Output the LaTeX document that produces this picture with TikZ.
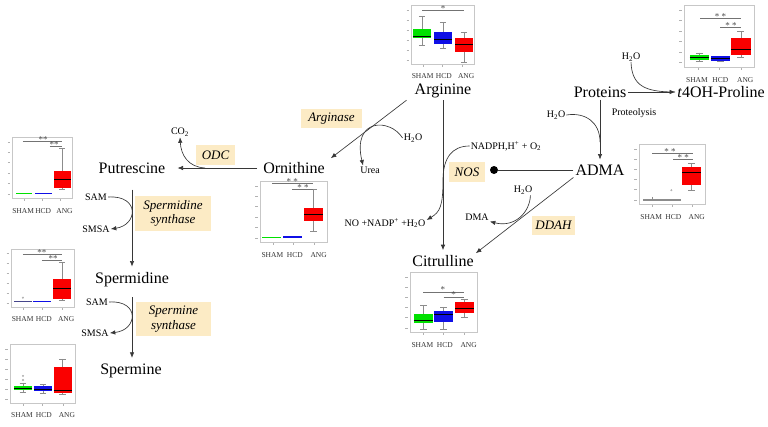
\documentclass[tikz,border=0pt]{standalone}
\usepackage{fontspec}
\setmainfont{Liberation Serif}
\usetikzlibrary{arrows.meta}
\definecolor{enzfill}{RGB}{252,235,197}
\definecolor{bgreen}{RGB}{0,225,0}
\definecolor{bblue}{RGB}{15,15,230}
\definecolor{bred}{RGB}{250,0,0}
\definecolor{bslate}{RGB}{70,70,140}
\definecolor{lnc}{RGB}{55,55,55}
\tikzset{
 met/.style={font=\fontsize{16}{18}\selectfont, inner sep=2pt},
 sm/.style={font=\fontsize{10}{12}\selectfont, inner sep=1pt},
 enz/.style={fill=enzfill, font=\fontsize{13}{14.5}\selectfont\itshape, align=center, inner sep=1pt},
 conn/.style={draw=lnc, line width=0.65pt},
 arr/.style={conn, -{Latex[length=5.5pt,width=4.5pt]}},
 axl/.style={font=\fontsize{7.5}{8}\selectfont, text=black!80, inner sep=0pt},
 pframe/.style={draw=black!22, line width=0.5pt},
 whisk/.style={draw=black!45, line width=0.4pt},
 sig/.style={draw=black!55, line width=0.4pt},
 star/.style={font=\fontsize{9}{9}\selectfont, text=black!70, inner sep=0pt},
 outl/.style={circle, draw=black!40, line width=0.3pt, inner sep=0pt, minimum size=1.6pt},
}
% box: colour, xc, whisker top, box top, median, box bottom, whisker bottom
\newcommand{\bxp}[7]{%
  \draw[whisk] (#2,#3) -- (#2,#4) (#2,#6) -- (#2,#7);
  \draw[whisk] (#2-0.05,#3) -- (#2+0.05,#3) (#2-0.05,#7) -- (#2+0.05,#7);
  \fill[#1] (#2-0.14,#4) rectangle (#2+0.14,#6);
  \draw[black, line width=0.4pt] (#2-0.14,#5) -- (#2+0.14,#5);
}
% flat box: colour, xc, y
\newcommand{\fbx}[3]{%
  \fill[#1] (#2-0.14,#3-0.012) rectangle (#2+0.14,#3+0.012);
}
% plot: x0, y0, w, h, content
\newcommand{\bplot}[5]{%
 \begin{scope}[shift={(#1,#2)}, xscale=#3, yscale=#4]
  \draw[pframe] (0,0) rectangle (1,1);
  \foreach \t in {0.08,0.25,0.42,0.59,0.76,0.93}
    \draw[black!30, line width=0.4pt] (-0.07,\t) -- (-0.035,\t);
  \foreach \g in {0.2,0.5,0.81}
    \draw[black!30, line width=0.3pt] (\g,1.02) -- (\g,1.05);
  #5
  \node[axl] at (0.185,1.21) {SHAM};
  \node[axl] at (0.52,1.21) {HCD};
  \node[axl] at (0.875,1.21) {ANG};
 \end{scope}}
\begin{document}
\begin{tikzpicture}[x=1pt,y=-1pt]
\fill[white] (0,0) rectangle (768,426);
\useasboundingbox (0,0) rectangle (768,426);

% ---- box plots ----
\bplot{411}{5}{63}{59}{
 \bxp{bgreen}{.175}{.19}{.41}{.53}{.56}{.68}
 \bxp{bblue}{.51}{.29}{.46}{.58}{.66}{.73}
 \bxp{bred}{.84}{.46}{.56}{.66}{.80}{.97}
 \draw[sig] (.175,.085) -- (.84,.085);
 \node[star] at (.51,.06) {*};
}
\bplot{684}{5}{70}{62}{
 \bxp{bgreen}{.22}{.77}{.81}{.84}{.88}{.90}
 \bxp{bblue}{.52}{.82}{.82}{.86}{.90}{.90}
 \bxp{bred}{.81}{.42}{.53}{.71}{.81}{.84}
 \draw[sig] (.23,.21) -- (.82,.21);
 \node[star] at (.52,.18) {* *};
 \draw[sig] (.52,.36) -- (.82,.36);
 \node[star] at (.67,.33) {* *};
}
\bplot{639}{144}{66}{60}{
 \draw[whisk] (.205,.88) -- (.205,.93);
 \fbx{black!45}{.205}{.93}
 \fbx{black!45}{.49}{.93}
 \node[outl] at (.49,.77) {};
 \bxp{bred}{.795}{.32}{.38}{.47}{.68}{.77}
 \draw[sig] (.2,.15) -- (.82,.15);
 \node[star] at (.47,.12) {* *};
 \draw[sig] (.52,.25) -- (.82,.25);
 \node[star] at (.67,.22) {* *};
}
\bplot{410}{272}{67}{60}{
 \bxp{bgreen}{.2}{.55}{.70}{.80}{.85}{.95}
 \bxp{bblue}{.5}{.58}{.65}{.70}{.83}{.95}
 \bxp{bred}{.81}{.45}{.50}{.61}{.68}{.75}
 \draw[sig] (.2,.33) -- (.81,.33);
 \node[star] at (.49,.29) {*};
 \draw[sig] (.5,.42) -- (.81,.42);
 \node[star] at (.65,.38) {*};
}
\bplot{260}{181}{67}{61}{
 \fbx{bgreen}{.17}{.93}
 \fbx{bblue}{.49}{.92}
 \bxp{bred}{.8}{.13}{.44}{.54}{.66}{.82}
 \draw[sig] (.18,.03) -- (.79,.03);
 \node[star] at (.48,.01) {* *};
 \draw[sig] (.48,.13) -- (.79,.13);
 \node[star] at (.64,.10) {* *};
}
\bplot{12}{137}{60}{61}{
 \fbx{bgreen}{.2}{.93}
 \fbx{bblue}{.52}{.93}
 \bxp{bred}{.84}{.18}{.56}{.69}{.84}{.85}
 \draw[sig] (.18,.07) -- (.83,.07);
 \node[star] at (.52,.04) {**};
 \draw[sig] (.63,.15) -- (.83,.15);
 \node[star] at (.70,.12) {**};
}
\bplot{11}{249}{63}{58}{
 \fbx{bslate}{.19}{.91}
 \node[outl] at (.19,.84) {};
 \fbx{bblue}{.49}{.91}
 \bxp{bred}{.81}{.22}{.52}{.67}{.86}{.88}
 \draw[sig] (.19,.09) -- (.81,.09);
 \node[star] at (.49,.06) {**};
 \draw[sig] (.49,.19) -- (.81,.19);
 \node[star] at (.67,.16) {**};
}
\bplot{10}{344}{65}{59}{
 \bxp{bgreen}{.2}{.66}{.71}{.75}{.78}{.81}
 \node[outl] at (.2,.54) {};
 \node[outl] at (.2,.61) {};
 \bxp{bblue}{.51}{.68}{.71}{.76}{.80}{.83}
 \bxp{bred}{.81}{.25}{.39}{.78}{.83}{.85}
}

% ---- metabolites ----
\node[met] (arg) at (443,91) {Arginine};
\node[met] (prot) at (600,92) {Proteins};
\node[met] (t4oh) at (721,92) {\textit{t}4OH-Proline};
\node[met] (adma) at (600,170) {ADMA};
\node[met] (citr) at (443,261) {Citrulline};
\node[met] (orn) at (294,168) {Ornithine};
\node[met] (put) at (132,168) {Putrescine};
\node[met] (spd) at (132,280) {Spermidine};
\node[met] (spm) at (131,371) {Spermine};

% ---- enzymes ----
\node[enz, minimum width=61, minimum height=19] (arginase) at (331.5,118.5) {Arginase};
\node[enz, minimum width=36, minimum height=20] (nos) at (467,172) {NOS};
\node[enz, minimum width=39, minimum height=20] (odc) at (215.5,155) {ODC};
\node[enz, minimum width=43, minimum height=19] (ddah) at (553.5,225.5) {DDAH};
\node[enz, minimum width=76, minimum height=35] (spds) at (173,213.5) {Spermidine\\synthase};
\node[enz, minimum width=75, minimum height=34] (spms) at (173.5,319) {Spermine\\synthase};

% ---- small labels ----
\node[sm] (h2oT) at (631,57) {H\textsubscript{2}O};
\node[sm] (h2oP) at (556,115) {H\textsubscript{2}O};
\node[sm] (prolys) at (634,113) {Proteolysis};
\node[sm] (h2oA) at (413,138) {H\textsubscript{2}O};
\node[sm] (urea) at (370,170) {Urea};
\node[sm] (nadph) at (506,146) {NADPH,H\textsuperscript{+} + O\textsubscript{2}};
\node[sm] (no) at (385,223) {NO +NADP\textsuperscript{+} +H\textsubscript{2}O};
\node[sm] (h2oD) at (523,190) {H\textsubscript{2}O};
\node[sm] (dma) at (477,217) {DMA};
\node[sm] (co2) at (180,132) {CO\textsubscript{2}};
\node[sm] (sam1) at (96,197) {SAM};
\node[sm] (smsa1) at (96,229) {SMSA};
\node[sm] (sam2) at (97,302) {SAM};
\node[sm] (smsa2) at (95,333) {SMSA};

\node[circle, fill=black, minimum size=8, inner sep=0pt] (dot) at (494,170) {};
\coordinate (pj) at (600,142);
\coordinate (cj) at (205,168);

% ---- connectors ----
\draw[arr] ([xshift=-6]arg.south west) -- ([xshift=4,yshift=2]orn.north east);
\draw[arr] (arg.south) -- ([yshift=3]citr.north);
\draw[arr] (prot.south) -- ([yshift=3]adma.north);
\draw[arr] (prot.east) -- (t4oh.west);
\draw[conn] (h2oT.south) .. controls (632,86) and (645,92) .. (t4oh.west);
\draw[conn] (h2oP.east) .. controls (585,112) and (600,122) .. (pj);
\draw[arr] (h2oA.west) .. controls (390,118) and (352,118) .. ([xshift=-7]urea.north);
\draw[arr] (nadph.west) .. controls (452,146) and (443,158) .. (443,180)
  .. controls (443,206) and (440,212) .. ([yshift=3]no.east);
\draw[conn] (adma.west) -- (dot);
\draw[arr] (adma.south west) -- (citr.north east);
\draw[arr] ([xshift=-3]h2oD.south east) .. controls (530,212) and (515,228) .. (dma.south east);
\draw[arr] ([xshift=-4]orn.west) -- ([xshift=10]put.east);
\draw[arr] (cj) .. controls (188,167) and (181,155) .. (co2.south);
\draw[arr] ([yshift=-14]put.south) -- ([yshift=4]spd.north);
\draw[arr] (sam1.east) .. controls (140,195) and (138,225) .. (smsa1.east);
\draw[arr] ([yshift=-8]spd.south) -- ([yshift=4]spd.south |- spm.north);
\draw[arr] (sam2.east) .. controls (140,300) and (138,330) .. (smsa2.east);
\end{tikzpicture}
\end{document}
